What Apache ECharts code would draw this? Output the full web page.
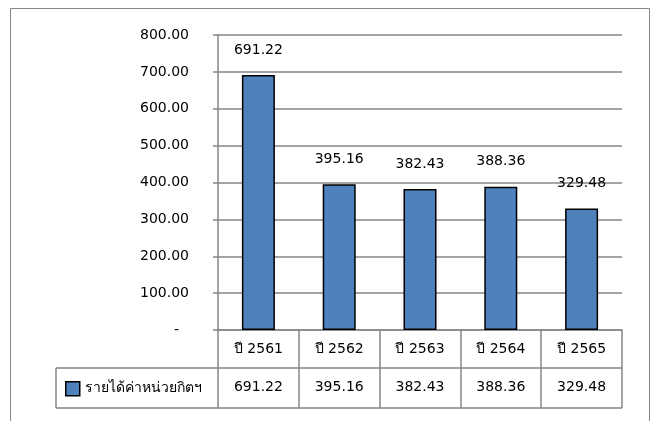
<!DOCTYPE html>
<html><head><meta charset="utf-8">
<script src="https://cdn.jsdelivr.net/npm/echarts@6/dist/echarts.min.js"></script>
<style>html,body{margin:0;padding:0;background:#fff}#c{width:657px;height:421px}</style>
</head><body><div id="c"></div>
<script>
const categories = ['ปี 2561', 'ปี 2562', 'ปี 2563', 'ปี 2564', 'ปี 2565'];
const seriesName = 'รายได้ค่าหน่วยกิตฯ';
const values = [691.22, 395.16, 382.43, 388.36, 329.48];
const yTicks = [0, 100, 200, 300, 400, 500, 600, 700, 800];

const FONT = '"DejaVu Sans", Tahoma, sans-serif';
const FS = 14;
const GRAY = '#868686';
const chart = echarts.init(document.getElementById('c'));
chart.setOption({
  animation: false,
  textStyle: { fontFamily: FONT },
  grid: { left: 218, right: 35, top: 35, bottom: 91 },
  legend: {
    data: [seriesName], left: 65, top: 381, padding: 0, itemWidth: 14, itemHeight: 14, itemGap: 6,
    icon: 'rect', textStyle: { fontSize: 14, color: '#000', fontFamily: FONT },
    itemStyle: { borderColor: '#000', borderWidth: 1.5 }
  },
  xAxis: [{
    type: 'category', data: categories, position: 'bottom',
    axisLine: { show: true, lineStyle: { color: GRAY, width: 1.5 } },
    axisTick: { show: true, interval: 0, length: 78, lineStyle: { color: GRAY, width: 1.5 } },
    axisLabel: { color: '#000', fontSize: FS, margin: 12, fontFamily: FONT, interval: 0 }
  }, {
    type: 'category', data: values.map(v => v.toFixed(2)), position: 'bottom', offset: 38,
    axisLine: { show: false }, axisTick: { show: false },
    axisLabel: { color: '#000', fontSize: FS, margin: 12, fontFamily: FONT, interval: 0 }
  }],
  yAxis: {
    type: 'value', min: yTicks[0], max: yTicks[yTicks.length - 1], interval: 100,
    axisLine: { show: true, lineStyle: { color: GRAY, width: 1.5 } },
    axisTick: { show: true, length: 5, lineStyle: { color: GRAY, width: 1.5 } },
    splitLine: { lineStyle: { color: GRAY, width: 1.5 } },
    axisLabel: {
      color: '#000', fontSize: FS, margin: 29, fontFamily: FONT,
      formatter: v => v === 0 ? '{d|-}' : v.toFixed(2),
      rich: { d: { fontSize: FS, fontFamily: FONT, padding: [0, 10, 0, 0] } }
    }
  },
  series: [{
    name: seriesName, type: 'bar', data: values, barWidth: 33, xAxisIndex: 0,
    itemStyle: { color: '#4F81BD', borderColor: '#000', borderWidth: 1.5 },
    label: { show: true, position: 'top', distance: 18, color: '#000', fontSize: FS, fontFamily: FONT,
      formatter: p => p.value.toFixed(2) }
  }],
  graphic: [
    { type: 'rect', shape: { x: 10.5, y: 8.5, width: 639, height: 430 }, style: { fill: 'none', stroke: GRAY, lineWidth: 1 }, silent: true },
    { type: 'line', shape: { x1: 56, y1: 368, x2: 622, y2: 368 }, style: { stroke: GRAY, lineWidth: 1.5 } },
    { type: 'line', shape: { x1: 56, y1: 408, x2: 622, y2: 408 }, style: { stroke: GRAY, lineWidth: 1.5 } },
    { type: 'line', shape: { x1: 56, y1: 368, x2: 56, y2: 408 }, style: { stroke: GRAY, lineWidth: 1.5 } }
  ]
});
</script></body></html>
